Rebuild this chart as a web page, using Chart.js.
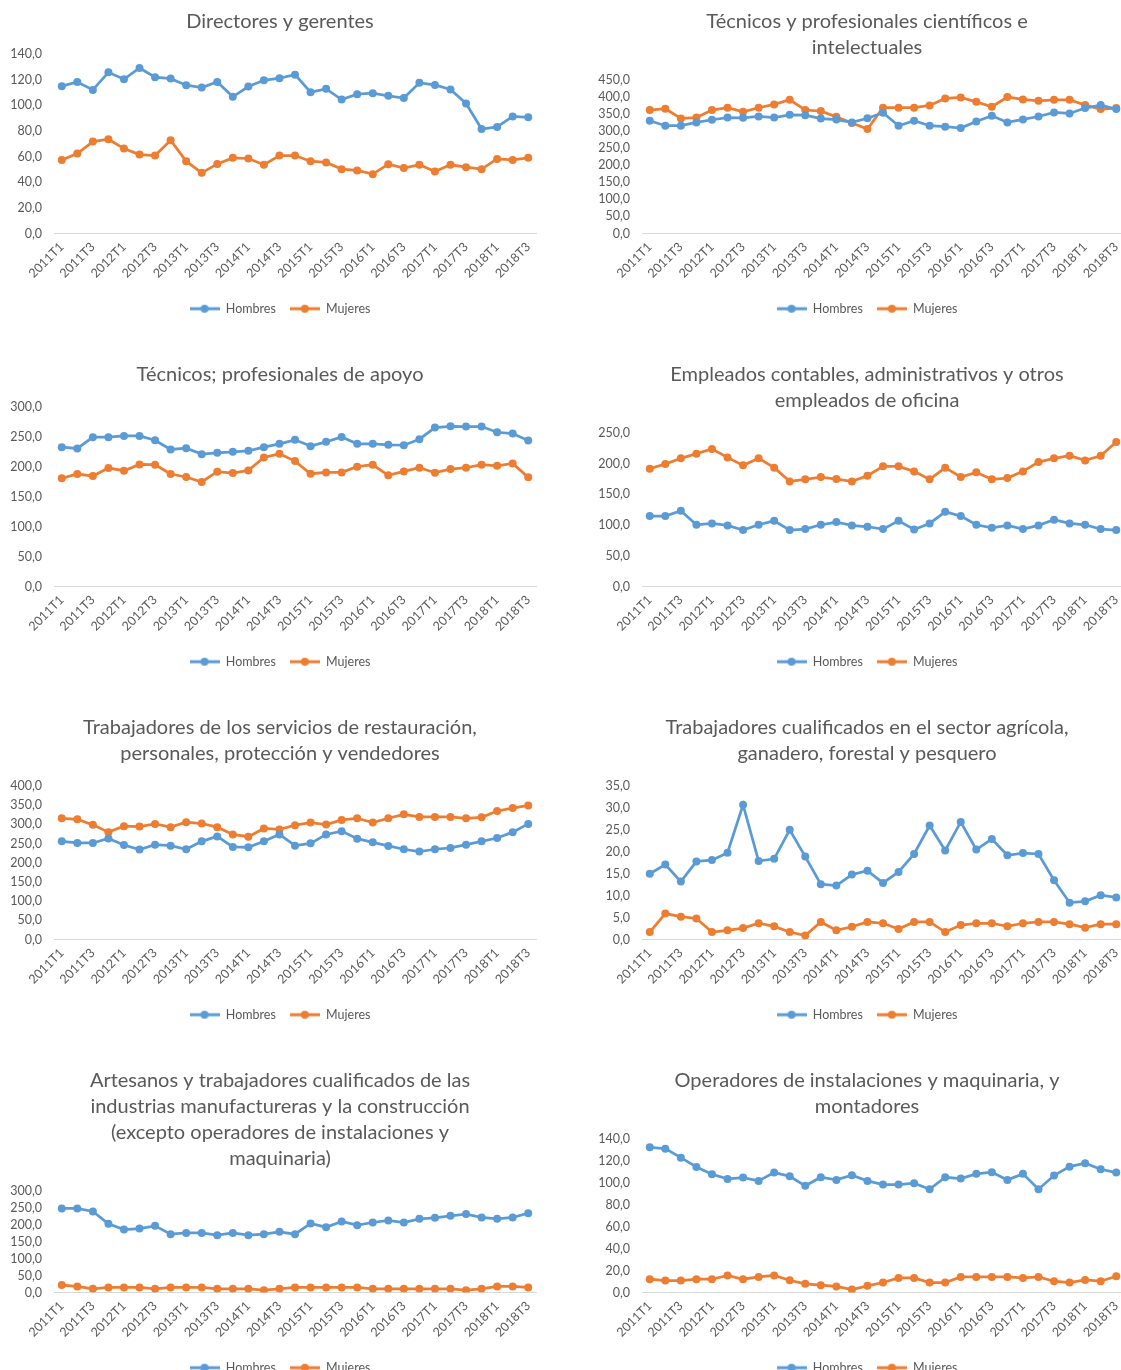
<!DOCTYPE html>
<html>
<head>
<meta charset="utf-8">
<script src="https://cdn.jsdelivr.net/npm/chart.js@4.4.1/dist/chart.umd.min.js"></script>
<style>
  html, body { margin: 0; padding: 0; background: #fff; overflow: hidden; }
  body { width: 1121px; height: 1370px; position: relative; }
  canvas { position: absolute; }
</style>
</head>
<body>
<canvas id="c1"></canvas>
<canvas id="c2"></canvas>
<canvas id="c3"></canvas>
<canvas id="c4"></canvas>
<canvas id="c5"></canvas>
<canvas id="c6"></canvas>
<canvas id="c7"></canvas>
<canvas id="c8"></canvas>
<script>
// quarters
const quarters = [
  '2011T1','2011T2','2011T3','2011T4','2012T1','2012T2','2012T3','2012T4',
  '2013T1','2013T2','2013T3','2013T4','2014T1','2014T2','2014T3','2014T4',
  '2015T1','2015T2','2015T3','2015T4','2016T1','2016T2','2016T3','2016T4',
  '2017T1','2017T2','2017T3','2017T4','2018T1','2018T2','2018T3'
];
const seriesNames = ['Hombres', 'Mujeres'];

// Directores y gerentes
const dirH = [114.9,118.2,112.0,125.7,120.3,129.1,121.9,120.8,115.7,113.8,118.2,106.6,114.6,119.5,121.1,123.9,110.2,112.8,104.5,108.7,109.4,107.4,105.6,117.5,115.9,112.3,101.4,81.5,83.1,91.3,90.6];
const dirM = [57.4,62.4,71.7,73.5,66.2,61.6,60.8,72.7,56.4,47.3,54.3,59.0,58.5,53.6,60.8,60.8,56.4,55.4,50.2,49.2,46.3,54.1,51.0,53.6,48.4,53.6,51.7,50.2,58.2,57.4,59.0];

// Tecnicos y profesionales cientificos e intelectuales
const cienH = [330.6,316,316,325.7,333.5,340,339,343,340,348,347,337,334,325.7,338,354,316,330.6,316,313,309,328.6,345,325.7,334.5,343,355,352,367.7,376.5,364.8];
const cienM = [361.9,365.8,337.4,340,362,368.7,357,368.7,378.5,392,362,359,342,323.7,306,368.7,368.7,368.7,375.5,396,399,386,371.6,400,393,389,392,392,376.5,364.8,367.7];

// Tecnicos; profesionales de apoyo
const apoyoH = [232.9,230.7,249.5,249.5,251.7,251.7,244.5,229,231.2,221.2,223.5,225.1,226.8,232.9,238.4,245.1,234.6,241.8,250,238.4,238.4,236.8,236.2,246.2,265.6,267.8,267.3,267.3,257.8,255.6,244];
const apoyoM = [180.8,188,184.6,198,193.5,204,203.5,188,183,174.7,191.9,189.6,194,215.7,221.8,209.6,188.5,190.7,190.7,200.2,203.5,185.8,192.4,198.5,190.2,196.3,198.5,203.5,201.8,205.7,182.4];

// Empleados contables, administrativos y otros empleados de oficina
const ofiH = [114.7,114.7,123.4,100.5,102.7,99.5,91.9,100.5,107,91.9,93.5,100.5,104.9,99.5,97.3,93.5,107,92.9,102.7,121.7,114.7,100.5,95.7,99.5,93.5,99.5,108.7,102.7,100.5,93.5,91.9];
const ofiM = [191.9,199.5,208.7,216.3,223.9,210.3,197.3,208.7,193.5,171.2,174.5,178.3,175,171.2,180.4,195.7,195.7,187.5,174.5,193.5,178.3,185.9,174.5,176.6,187.5,202.7,208.7,213,205.4,213,235.3];

// Trabajadores de los servicios de restauracion...
const servH = [255.8,251.5,251.5,263.5,246.4,234.3,247.2,244.6,235.2,255.8,268.7,241.2,240.4,255.8,273.8,244.6,250.6,273.8,282.4,262.7,253.2,243.8,235.2,229.2,235.2,238.6,247.2,255.8,264.4,279.8,301.3];
const servM = [315.9,313.3,298.7,279.8,295.3,294.4,301.3,292.7,305.6,302.2,292.7,273.8,267.8,289.3,286.7,297.9,304.7,299.6,311.6,315.9,304.7,315.9,326.2,319.3,319.3,319.3,315.9,318.5,334.8,342.5,349.4];

// Trabajadores cualificados en el sector agricola...
const agriH = [15.0,17.1,13.2,17.8,18.1,19.8,30.7,17.9,18.4,25.0,18.9,12.6,12.3,14.8,15.7,12.9,15.4,19.5,26.0,20.3,26.8,20.5,22.9,19.2,19.7,19.5,13.5,8.4,8.7,10.1,9.6];
const agriM = [1.7,5.9,5.2,4.8,1.7,2.1,2.6,3.7,3.0,1.7,0.9,4.0,2.1,2.9,4.0,3.7,2.4,4.0,4.0,1.7,3.3,3.7,3.7,3.0,3.7,4.0,4.0,3.5,2.7,3.5,3.5];

// Artesanos y trabajadores cualificados...
const artH = [248.5,248.5,239.6,203,186,189,197,172.3,176.2,176.2,169.3,176.2,169.3,172.3,179.2,172.3,204,193,209.9,199,206.9,212.9,206.9,217.8,220.8,226.7,231.7,221.8,217.8,221.8,234.6];
const artM = [21.8,17.8,10.9,14.9,14.9,14.9,10.9,14.9,14.9,14.9,10.9,10.9,10.9,6.9,10.9,14.9,14.9,14.9,14.9,14.9,10.9,10.9,10.9,10.9,10.9,10.9,6.9,10.9,17.8,17.8,14.9];

// Operadores de instalaciones y maquinaria, y montadores
const operH = [132.4,131.2,123,114.5,107.9,103.6,104.8,101.8,109.4,106,97.3,105.1,102.7,107,101.8,98.5,98.5,99.7,94.2,105.1,103.9,108.2,109.7,102.7,108.2,94.2,106.7,114.8,117.9,112.4,109.4];
const operM = [12.1,10.9,10.9,12.1,12.1,15.5,12.1,14.2,15.5,11.2,7.9,6.7,5.5,2.7,6.1,9.1,13.3,13.3,9.1,9.1,14.2,14.2,14.2,14.2,13.3,14.2,10.3,9.1,11.5,10.3,14.8];

const BLUE = '#5B9BD5';
const ORANGE = '#ED7D31';
const GREY = '#595959';
const FONT = 'Lato';

// panel placement: [id, left, top, width, title, hombres, mujeres, max, step]
const panels = [
  ['c1', 0,   0,    560, ['Directores y gerentes'], dirH, dirM, 140, 20],
  ['c2', 580, 0,    574, ['Técnicos y profesionales científicos e', 'intelectuales'], cienH, cienM, 450, 50],
  ['c3', 0,   353,  560, ['Técnicos; profesionales de apoyo'], apoyoH, apoyoM, 300, 50],
  ['c4', 580, 353,  574, ['Empleados contables, administrativos y otros', 'empleados de oficina'], ofiH, ofiM, 250, 50],
  ['c5', 0,   706,  560, ['Trabajadores de los servicios de restauración,', 'personales, protección y vendedores'], servH, servM, 400, 50],
  ['c6', 580, 706,  574, ['Trabajadores cualificados en el sector agrícola,', 'ganadero, forestal y pesquero'], agriH, agriM, 35, 5],
  ['c7', 0,   1059, 560, ['Artesanos y trabajadores cualificados de las', 'industrias manufactureras y la construcción', '(excepto operadores de instalaciones y', 'maquinaria)'], artH, artM, 300, 50],
  ['c8', 580, 1059, 574, ['Operadores de instalaciones y maquinaria, y', 'montadores'], operH, operM, 140, 20]
];

// excel-like legend marker: short line with a dot
function legendMarker(color) {
  const c = document.createElement('canvas');
  c.width = 30; c.height = 10;
  const g = c.getContext('2d');
  g.strokeStyle = color;
  g.lineWidth = 3;
  g.beginPath(); g.moveTo(0, 5); g.lineTo(30, 5); g.stroke();
  g.fillStyle = color;
  g.beginPath(); g.arc(15, 5, 4, 0, Math.PI * 2); g.fill();
  return c;
}
const markers = [legendMarker(BLUE), legendMarker(ORANGE)];

const H = 340;
const fmt = v => v.toFixed(1).replace('.', ',');

panels.forEach(([id, left, top, width, title, hom, muj, max, step]) => {
  const cv = document.getElementById(id);
  cv.style.left = left + 'px';
  cv.style.top = top + 'px';
  cv.width = width;
  cv.height = H;
  const rightCol = left > 0;

  new Chart(cv, {
    type: 'line',
    data: {
      labels: quarters,
      datasets: [hom, muj].map((vals, i) => ({
        label: seriesNames[i],
        data: vals,
        yAxisID: 'y',
        borderColor: i ? ORANGE : BLUE,
        backgroundColor: i ? ORANGE : BLUE,
        pointBackgroundColor: i ? ORANGE : BLUE,
        borderWidth: 2.75,
        pointRadius: 4,
        pointBorderWidth: 0,
        pointStyle: 'circle',
        tension: 0
      }))
    },
    options: {
      responsive: false,
      animation: false,
      layout: { padding: { left: 0, right: 0, top: 0, bottom: 15 } },
      plugins: {
        title: {
          display: true,
          text: title,
          color: GREY,
          font: { family: FONT, size: 20, weight: 'normal', lineHeight: 26 / 20 },
          padding: { top: 9, bottom: 19 }
        },
        legend: {
          position: 'bottom',
          labels: {
            color: GREY,
            font: { family: FONT, size: 12.5 },
            usePointStyle: true,
            pointStyleWidth: 30,
            padding: 14,
            generateLabels: chart => chart.data.datasets.map((ds, i) => ({
              text: ds.label,
              pointStyle: markers[i],
              fillStyle: ds.borderColor,
              strokeStyle: ds.borderColor,
              lineWidth: 0,
              fontColor: GREY,
              datasetIndex: i
            }))
          }
        },
        tooltip: { enabled: false }
      },
      scales: {
        x: {
          offset: true,
          grid: { display: false, drawTicks: false },
          border: { display: true, color: '#d9d9d9', width: 1 },
          ticks: {
            autoSkip: false,
            minRotation: 45,
            maxRotation: 45,
            padding: 6,
            color: GREY,
            font: { family: FONT, size: 12.5 },
            callback: (v, i) => (i % 2 === 0 ? quarters[i] : '')
          },
          afterFit: s => { s.height = 55; }
        },
        y: {
          min: 0,
          max: max,
          grid: { display: false, drawTicks: false },
          border: { display: false },
          ticks: {
            stepSize: step,
            autoSkip: false,
            padding: 12,
            color: GREY,
            font: { family: FONT, size: 12.5 },
            callback: v => fmt(v)
          },
          afterFit: s => { s.width = rightCol ? 62 : 54; }
        },
        // empty spacer on the right so title/legend stay centred on the panel
        spacer: {
          type: 'linear',
          position: 'right',
          grid: { display: false, drawTicks: false },
          border: { display: false },
          ticks: { display: false },
          afterFit: s => { s.width = rightCol ? 30 : 24; }
        }
      }
    }
  });
});
</script>
</body>
</html>
